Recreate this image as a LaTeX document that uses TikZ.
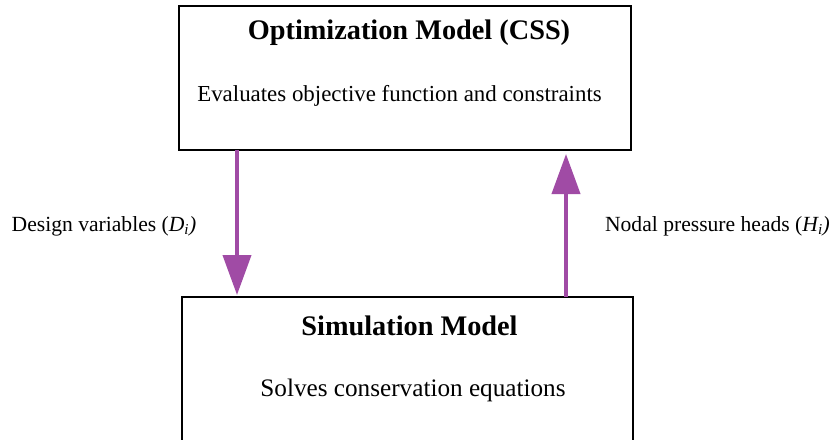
\documentclass[tikz,border=0pt]{standalone}
\usepackage{fontspec}
\setmainfont{Liberation Serif}
\usetikzlibrary{arrows.meta}
\definecolor{flowpurple}{RGB}{160,75,165}
\tikzset{
  modelbox/.style={draw=black,line width=2pt,fill=white},
  titletext/.style={font=\fontsize{28.3}{32}\selectfont\bfseries,anchor=center,inner sep=0pt},
  bodytext/.style={font=\fontsize{22.9}{27}\selectfont,anchor=center,inner sep=0pt},
  simbodytext/.style={font=\fontsize{25.2}{29}\selectfont,anchor=center,inner sep=0pt},
  labeltext/.style={font=\fontsize{21.6}{25}\selectfont,anchor=center,inner sep=0pt},
  flow/.style={draw=flowpurple,line width=4pt,-{Triangle[length=40pt,width=28pt]}}
}
\begin{document}
\begin{tikzpicture}[x=1pt,y=-1pt]
\useasboundingbox (0,0) rectangle (837,439);
\node[modelbox,minimum width=452pt,minimum height=144pt,anchor=north west,inner sep=0pt] (opt) at (178,5) {};
\node[modelbox,minimum width=451pt,minimum height=160pt,anchor=north west,inner sep=0pt] (sim) at (181,296) {};
\node[titletext] (optT) at (409,33) {Optimization Model (CSS)};
\node[bodytext] (optB) at (399.5,96) {Evaluates objective function and constraints};
\node[titletext] (simT) at (409.5,326) {Simulation Model};
\node[simbodytext] (simB) at (413,390) {Solves conservation equations};
\coordinate (dtop) at (237,150);
\coordinate (dbot) at (237,295);
\coordinate (utop) at (566,154);
\coordinate (ubot) at (566,297);
\draw[flow] (dtop) -- (dbot);
\draw[flow] (ubot) -- (utop);
\node[labeltext] (dl) at (104,226) {Design variables ({\itshape D\textsubscript{i})}};
\node[labeltext] (hl) at (717.5,226) {Nodal pressure heads ({\itshape H\textsubscript{i})}};
\end{tikzpicture}
\end{document}
